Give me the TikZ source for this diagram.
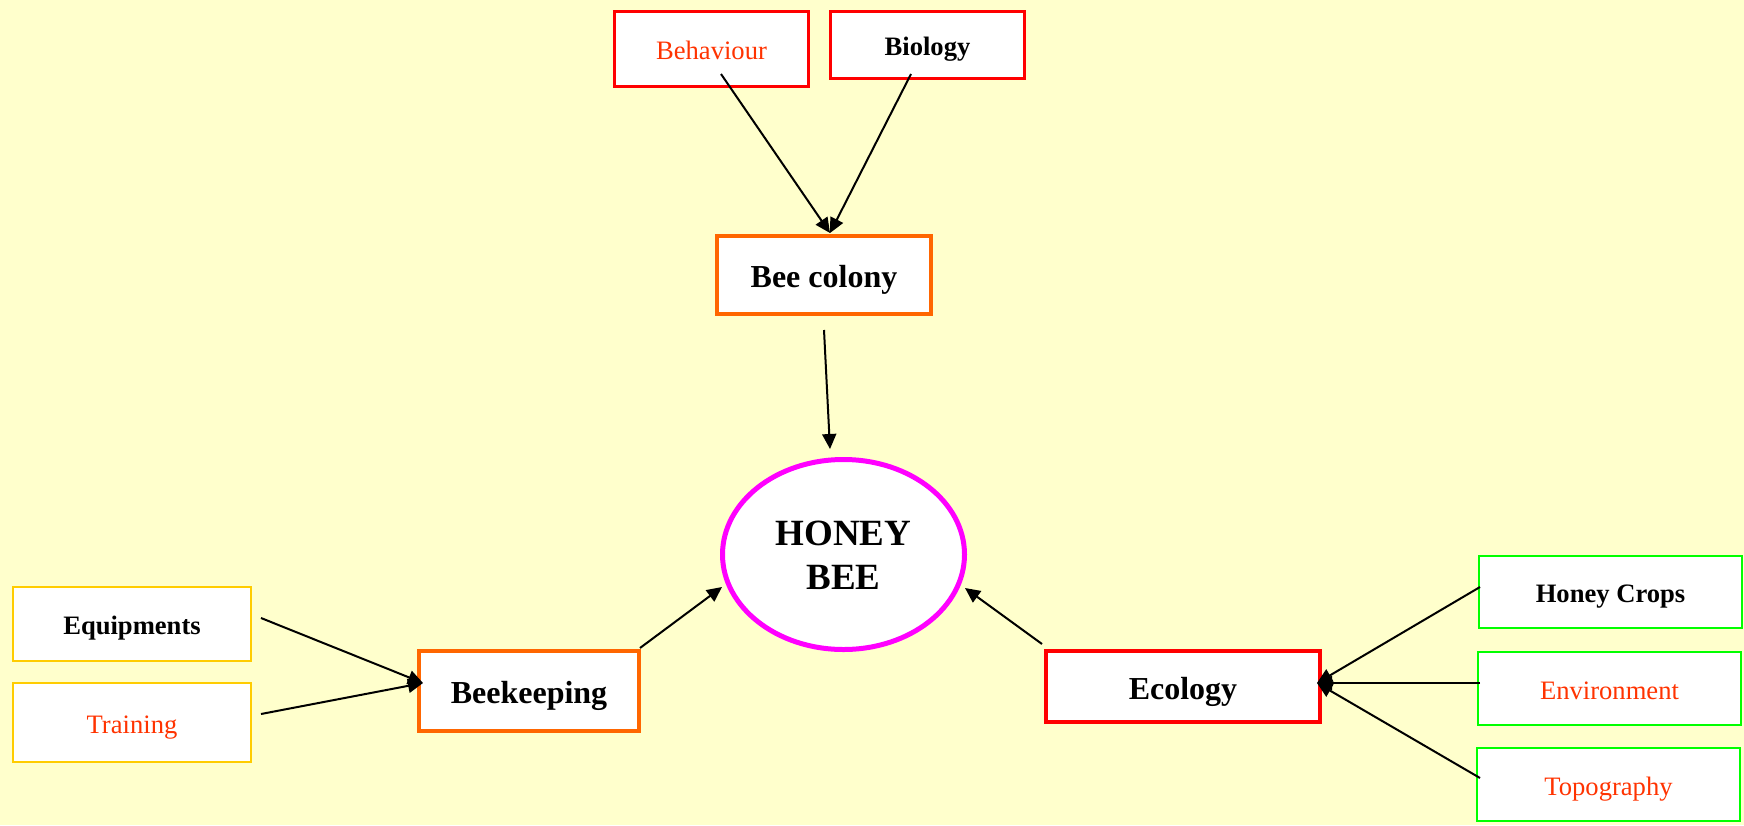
\documentclass[tikz,border=0pt]{standalone}
\usepackage{fontspec}
\setmainfont{Liberation Serif}
\usetikzlibrary{arrows.meta,calc,shapes.geometric}
\definecolor{bgyellow}{HTML}{FFFFCC}
\definecolor{txtred}{HTML}{FF3300}
\definecolor{bdred}{HTML}{FF0000}
\definecolor{bdorange}{HTML}{FF6600}
\definecolor{bdgold}{HTML}{FFCC00}
\definecolor{bdgreen}{HTML}{00FF00}
\definecolor{bdmagenta}{HTML}{FF00FF}
\tikzset{
  box/.style={rectangle, fill=white, outer sep=0pt, inner sep=0pt, align=center, text depth=0pt},
  smalltxt/.style={font=\fontsize{13.3pt}{16pt}\selectfont, text height=10.6pt},
  smallbold/.style={font=\bfseries\fontsize{13.3pt}{16pt}\selectfont, text height=10.6pt},
  midtxt/.style={font=\bfseries\fontsize{16pt}{19pt}\selectfont, text height=12.6pt},
  redbox/.style={box, draw=bdred, line width=1.5pt},
  orangebox/.style={box, draw=bdorange, line width=2pt},
  goldbox/.style={box, draw=bdgold, line width=1pt},
  greenbox/.style={box, draw=bdgreen, line width=1pt},
  ecobox/.style={box, draw=bdred, line width=2pt},
  conn/.style={draw=black, line width=1pt, -{Triangle[length=7.5pt,width=7pt]}}
}
\begin{document}
\begin{tikzpicture}[x=0.5pt,y=-0.5pt]
\useasboundingbox[fill=bgyellow] (0,0) rectangle (1744,825);
% top boxes
\node[redbox, smalltxt, text=txtred, minimum width=97pt, minimum height=37.5pt] (beh) at (711.5,49) {Behaviour};
\node[redbox, smallbold, minimum width=97pt, minimum height=33.5pt] (bio) at (927.5,45) {Biology};
\node[orangebox, midtxt, minimum width=107pt, minimum height=39pt] (col) at (824,275) {Bee colony};
% centre
\node[ellipse, fill=white, draw=bdmagenta, line width=2.5pt, outer sep=0pt, inner sep=0pt, minimum width=121pt, minimum height=95pt, align=center, text height=34.8pt, text depth=0pt, font=\bfseries\fontsize{18.5pt}{22pt}\selectfont] (hb) at (843.5,554.5) {HONEY\\BEE};
% lower row
\node[orangebox, midtxt, minimum width=110pt, minimum height=40pt] (bk) at (529,691) {Beekeeping};
\node[ecobox, midtxt, minimum width=137pt, minimum height=35.5pt] (eco) at (1183,686.5) {Ecology};
\node[goldbox, smallbold, minimum width=119pt, minimum height=37pt] (eq) at (132,624) {Equipments};
\node[goldbox, smalltxt, text=txtred, minimum width=119pt, minimum height=39.5pt] (tr) at (132,722.5) {Training};
\node[greenbox, smallbold, minimum width=131.5pt, minimum height=36pt] (hc) at (1610.5,592) {Honey Crops};
\node[greenbox, smalltxt, text=txtred, minimum width=131.5pt, minimum height=36.5pt] (env) at (1609.5,688.5) {Environment};
\node[greenbox, smalltxt, text=txtred, minimum width=131.5pt, minimum height=36.5pt] (top) at (1608.5,784.5) {Topography};
% connectors
\draw[conn] ($(beh.center)+(9.5,25)$) -- ($(col.north)+(6,-3)$);
\draw[conn] ($(bio.center)+(-16.5,29)$) -- ($(col.north)+(6,-3)$);
\draw[conn] ($(col.south)+(0,16)$) -- ($(hb.center)+(-13.5,-105.5)$);
\draw[conn] ($(bk.north east)+(1,-3)$) -- ($(hb.center)+(-121.5,32.5)$);
\draw[conn] ($(eco.north west)+(-4,-7)$) -- ($(hb.center)+(121.5,33.5)$);
\draw[conn] ($(eq.east)+(10,-6)$) -- ($(bk.west)+(4,-8)$);
\draw[conn] ($(tr.east)+(10,-8.5)$) -- ($(bk.west)+(4,-8)$);
\draw[conn] ($(hc.west)+(1,-5)$) -- ($(eco.east)+(-3,-3.5)$);
\draw[conn] ($(env.west)+(2,-5.5)$) -- ($(eco.east)+(-3,-3.5)$);
\draw[conn] ($(top.west)+(3,-6.5)$) -- ($(eco.east)+(-3,-3.5)$);
\end{tikzpicture}
\end{document}
